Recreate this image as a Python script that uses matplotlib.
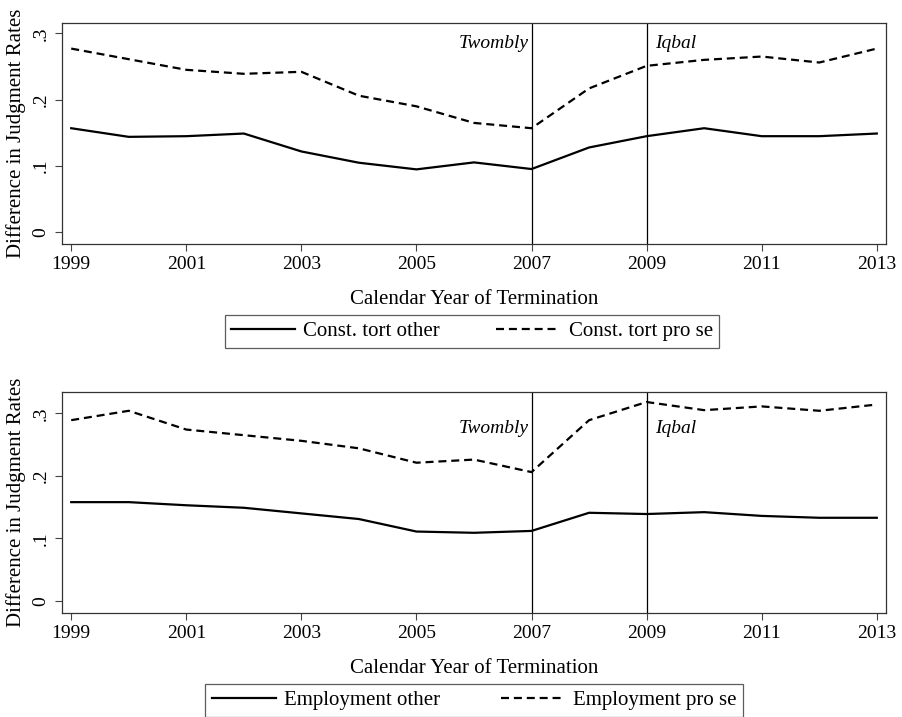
import matplotlib
matplotlib.use("Agg")
import matplotlib.pyplot as plt
from matplotlib.lines import Line2D

plt.rcParams['font.family'] = ['Liberation Serif', 'DejaVu Serif']

years = list(range(1999, 2014))

tort_other = [0.157, 0.144, 0.145, 0.149, 0.122, 0.105, 0.095, 0.1055, 0.0955,
              0.128, 0.145, 0.157, 0.145, 0.145, 0.149]
tort_prose = [0.277, 0.261, 0.245, 0.239, 0.242, 0.206, 0.190, 0.165, 0.157,
              0.217, 0.251, 0.260, 0.265, 0.256, 0.277]
emp_other = [0.158, 0.158, 0.153, 0.149, 0.140, 0.131, 0.111, 0.109, 0.112,
             0.141, 0.139, 0.142, 0.136, 0.133, 0.133]
emp_prose = [0.289, 0.304, 0.274, 0.265, 0.256, 0.244, 0.221, 0.226, 0.206,
             0.289, 0.318, 0.305, 0.311, 0.304, 0.314]

xticks = [1999, 2001, 2003, 2005, 2007, 2009, 2011, 2013]
yticks = [0, 0.1, 0.2, 0.3]
yticklabels = ["0", ".1", ".2", ".3"]
events = [(2007, "Twombly"), (2009, "Iqbal")]

W, H = 902, 717
fig = plt.figure(figsize=(W / 100, H / 100), dpi=100)

FS = 14
LFS = 15

def panel(rect, other, prose, lab_other, lab_prose, ylim, text_y, leg_box, colsp):
    ax = fig.add_axes(rect)
    ax.plot(years, other, color='black', lw=1.6, solid_joinstyle='round')
    ax.plot(years, prose, color='black', lw=1.6, linestyle=(0, (3.6, 2.2)))
    for x, name in events:
        ax.axvline(x, color='black', lw=0.9)
    ax.text(2007 - 0.05, text_y, "Twombly", style='italic', ha='right', va='center', fontsize=FS)
    ax.text(2009 + 0.15, text_y, "Iqbal", style='italic', ha='left', va='center', fontsize=FS)
    ax.set_xlim(1998.84, 2013.16)
    ax.set_ylim(*ylim)
    ax.set_xticks(xticks)
    ax.set_xticklabels([str(v) for v in xticks], fontsize=FS)
    ax.set_yticks(yticks)
    ax.set_yticklabels(yticklabels, fontsize=FS, rotation=90, va='center')
    ax.tick_params(direction='out', length=5, width=0.8, color='#444444', pad=4)
    for s in ax.spines.values():
        s.set_linewidth(0.9)
        s.set_color('#333333')
    ax.set_xlabel("Calendar Year of Termination", fontsize=LFS, labelpad=12)
    ax.set_ylabel("Difference in Judgment Rates", fontsize=LFS, labelpad=5)
    handles = [Line2D([], [], color='black', lw=1.6),
               Line2D([], [], color='black', lw=1.6, linestyle=(0, (3.6, 2.2)))]
    cx = (leg_box[0] + leg_box[1]) / 2 / W
    cy = 1 - (leg_box[2] + leg_box[3]) / 2 / H
    leg = fig.legend(handles, [lab_other, lab_prose], ncol=2, loc='center',
                     bbox_to_anchor=(cx, cy), frameon=True, fancybox=False,
                     edgecolor='#333333', fontsize=LFS, handlelength=3.07,
                     columnspacing=colsp, handletextpad=0.4, borderpad=0.3,
                     borderaxespad=0)
    leg.get_frame().set_linewidth(0.9)
    return ax

panel([62 / W, 1 - 243.7 / H, 824 / W, 221 / H], tort_other, tort_prose,
      "Const. tort other", "Const. tort pro se", (-0.017, 0.316), 0.285,
      (223, 721, 316, 347), 2.7)
panel([62 / W, 1 - 612.7 / H, 824 / W, 221 / H], emp_other, emp_prose,
      "Employment other", "Employment pro se", (-0.0187, 0.3345), 0.275,
      (203, 745, 685, 716), 2.9)

fig.savefig("out.png", dpi=100)
